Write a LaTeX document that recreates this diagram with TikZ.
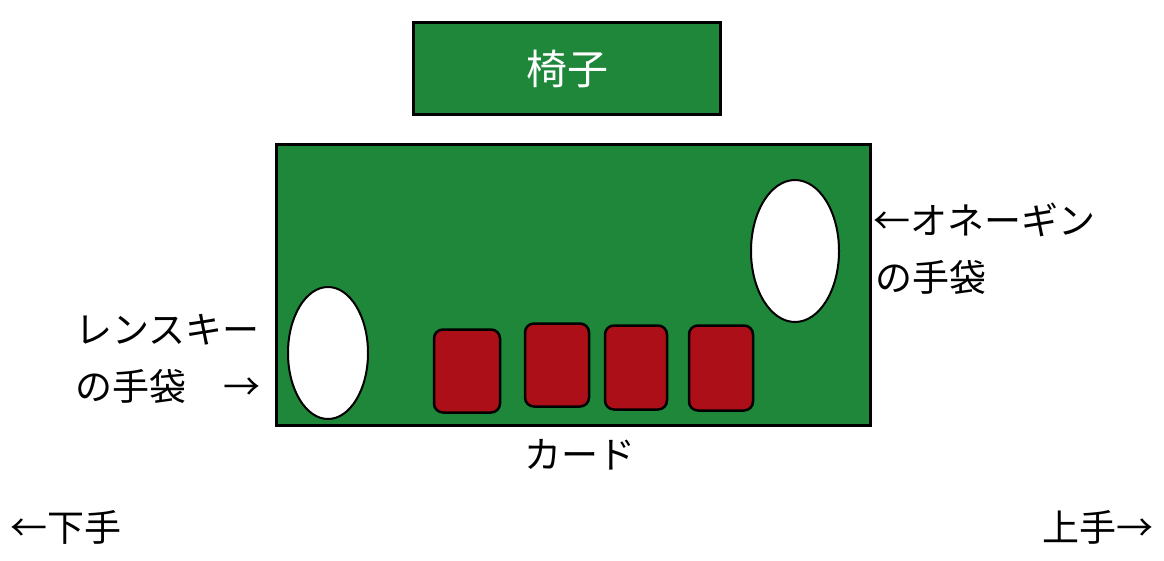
\documentclass[tikz,border=0pt]{standalone}
\usepackage{fontspec}
\setmainfont{Noto Sans CJK JP}
\usetikzlibrary{shapes.geometric}
\definecolor{felt}{RGB}{30,135,58}
\definecolor{cardred}{RGB}{173,15,24}
\tikzset{
  board/.style={draw=black, line width=3pt, fill=felt, rectangle, inner sep=0pt},
  glove/.style={draw=black, line width=2pt, fill=white, ellipse, inner sep=0pt},
  card/.style={draw=black, line width=2.5pt, fill=cardred, rectangle, rounded corners=9pt, inner sep=0pt},
  lbl/.style={font=\fontsize{37}{44}\selectfont, inner sep=0pt, text=black}
}
\begin{document}
\begin{tikzpicture}[x=1pt,y=-1pt]
\useasboundingbox[fill=white] (0,0) rectangle (1164,561);
% chair
\node[board, minimum width=307pt, minimum height=92pt, text=white, font=\fontsize{41}{48}\selectfont] (chair) at (567,69) {椅子};
% table
\node[board, minimum width=594pt, minimum height=280pt] (table) at (573,285) {};
% gloves
\node[glove, minimum width=88pt, minimum height=142pt] (gloveO) at (795,251) {};
\node[glove, minimum width=80pt, minimum height=132pt] (gloveL) at (328,353) {};
% cards
\node[card, minimum width=66pt, minimum height=83pt] (c1) at (467,371) {};
\node[card, minimum width=64pt, minimum height=83pt] (c2) at (557,365) {};
\node[card, minimum width=62pt, minimum height=84pt] (c3) at (636,367.5) {};
\node[card, minimum width=64pt, minimum height=85pt] (c4) at (721,368) {};
% labels
\node[lbl, anchor=west] (onegin1) at (873,220) {←オネーギン};
\node[lbl, anchor=west] (onegin2) at (875,277) {の手袋};
\node[lbl, anchor=west] (lensky1) at (75,330) {レンスキー};
\node[lbl, anchor=west] (lensky2) at (75,386) {の手袋　→};
\node[lbl] (cards) at (580,455) {カード};
\node[lbl, anchor=west] (shimote) at (10,527) {←下手};
\node[lbl, anchor=east] (kamite) at (1154,527) {上手→};
\end{tikzpicture}
\end{document}
